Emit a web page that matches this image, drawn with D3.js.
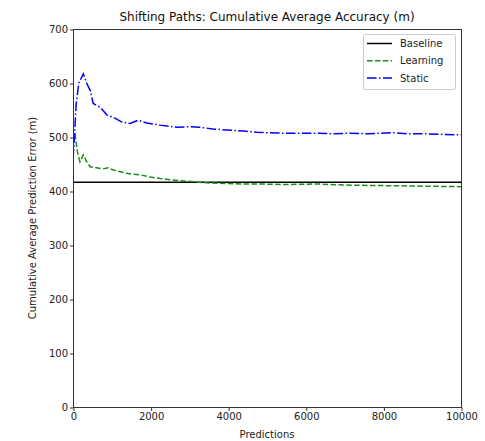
<!DOCTYPE html>
<html>
<head>
<meta charset="utf-8">
<script src="https://cdn.jsdelivr.net/npm/d3@7"></script>
<style>
  body { margin: 0; background: #fff; }
  svg { display: block; font-family: "DejaVu Sans", sans-serif; }
</style>
</head>
<body>
<svg id="chart" width="485" height="441"></svg>
<script>
// Cumulative average prediction error for each strategy
const baselineX = [0, 10000];
const baselineY = [416, 416];

const learningX = [0, 10, 50, 120, 180, 265, 350, 438, 600, 781, 900, 1039, 1200, 1383, 1550, 1727, 1985, 2250, 2500, 2800, 3100, 3500, 3961, 4400, 4820, 5500, 6280, 7000, 8000, 9000, 10000];
const learningY = [417, 500, 505, 470, 454, 467, 455, 445, 443, 441, 443, 439, 436, 433, 431, 430, 426, 423, 421, 419, 417, 415, 414, 413, 413, 412, 413, 411, 410, 409, 408];

const staticX = [0, 30, 80, 150, 265, 350, 450, 520, 700, 870, 1050, 1250, 1470, 1680, 1900, 2240, 2670, 3000, 3270, 3600, 3960, 4400, 4730, 5000, 5420, 5800, 6280, 6700, 7140, 7600, 8250, 8600, 9030, 9500, 10000];
const staticY = [460, 490, 560, 600, 617, 600, 585, 562, 555, 541, 536, 528, 525, 531, 526, 522, 518, 519, 518, 515, 513, 511, 509, 508, 507, 507, 507, 506, 507, 506, 508, 506, 506, 505, 504];

const xTicks = [0, 2000, 4000, 6000, 8000, 10000];
const yTicks = [0, 100, 200, 300, 400, 500, 600, 700];

const series = [
  { name: "Baseline", xs: baselineX, ys: baselineY, color: "#000000", dash: null },
  { name: "Learning", xs: learningX, ys: learningY, color: "#1a8a1a", dash: "5.5,2.4" },
  { name: "Static", xs: staticX, ys: staticY, color: "#0000ff", dash: "9.6,2.4,1.5,2.4" }
];

const margin = { left: 73, right: 24, top: 29, bottom: 34 };
const W = 485, H = 441;
const svg = d3.select("#chart");

const x = d3.scaleLinear().domain([0, 10000]).range([margin.left, W - margin.right]);
const y = d3.scaleLinear().domain([0, 700]).range([H - margin.bottom, margin.top]);

const line = d3.line().x(d => x(d[0])).y(d => y(d[1]));

// Series lines, clipped to the plotting area
svg.append("clipPath").attr("id", "plot-clip")
  .append("rect")
  .attr("x", margin.left).attr("y", margin.top)
  .attr("width", W - margin.left - margin.right)
  .attr("height", H - margin.top - margin.bottom);

const plot = svg.append("g").attr("clip-path", "url(#plot-clip)");
series.forEach(s => {
  plot.append("path")
    .datum(s.xs.map((v, i) => [v, s.ys[i]]))
    .attr("d", line)
    .attr("fill", "none")
    .attr("stroke", s.color)
    .attr("stroke-width", 1.5)
    .attr("stroke-dasharray", s.dash);
});

// Frame
svg.append("rect")
  .attr("x", margin.left + 0.5).attr("y", margin.top + 0.5)
  .attr("width", W - margin.left - margin.right)
  .attr("height", H - margin.top - margin.bottom)
  .attr("fill", "none").attr("stroke", "#333").attr("stroke-width", 1);

// Axes
const xAxis = svg.append("g")
  .attr("transform", `translate(0.5,${H - margin.bottom + 0.5})`)
  .call(d3.axisBottom(x).tickValues(xTicks).tickFormat(d3.format("d")).tickSize(3.5).tickPadding(2));
const yAxis = svg.append("g")
  .attr("transform", `translate(${margin.left + 0.5},0.5)`)
  .call(d3.axisLeft(y).tickValues(yTicks).tickFormat(d3.format("d")).tickSize(3.5).tickPadding(2));

[xAxis, yAxis].forEach(g => {
  g.select(".domain").remove();
  g.selectAll(".tick line").attr("stroke", "#333");
  g.selectAll(".tick text").attr("fill", "#222").style("font-size", "10px").style("font-family", "DejaVu Sans");
});

// Titles
svg.append("text")
  .attr("x", (margin.left + W - margin.right) / 2).attr("y", 21)
  .attr("text-anchor", "middle").attr("fill", "#111")
  .style("font-size", "12px")
  .text("Shifting Paths: Cumulative Average Accuracy (m)");

svg.append("text")
  .attr("x", (margin.left + W - margin.right) / 2).attr("y", 438)
  .attr("text-anchor", "middle").attr("fill", "#222")
  .style("font-size", "10px")
  .text("Predictions");

svg.append("text")
  .attr("transform", `translate(36,${(margin.top + H - margin.bottom) / 2}) rotate(-90)`)
  .attr("text-anchor", "middle").attr("fill", "#222")
  .style("font-size", "10px")
  .text("Cumulative Average Prediction Error (m)");

// Legend
const legend = svg.append("g");
legend.append("rect")
  .attr("x", 363.5).attr("y", 34.5).attr("width", 92).attr("height", 55)
  .attr("rx", 2).attr("fill", "#fff").attr("fill-opacity", 0.8)
  .attr("stroke", "#ccc").attr("stroke-width", 1);
series.forEach((s, i) => {
  const ly = 43.5 + i * 17.3;
  legend.append("line")
    .attr("x1", 367).attr("x2", 392).attr("y1", ly).attr("y2", ly)
    .attr("stroke", s.color).attr("stroke-width", 1.5)
    .attr("stroke-dasharray", s.dash);
  legend.append("text")
    .attr("x", 400).attr("y", ly + 3.6)
    .attr("fill", "#222").style("font-size", "10px")
    .text(s.name);
});
</script>
</body>
</html>
